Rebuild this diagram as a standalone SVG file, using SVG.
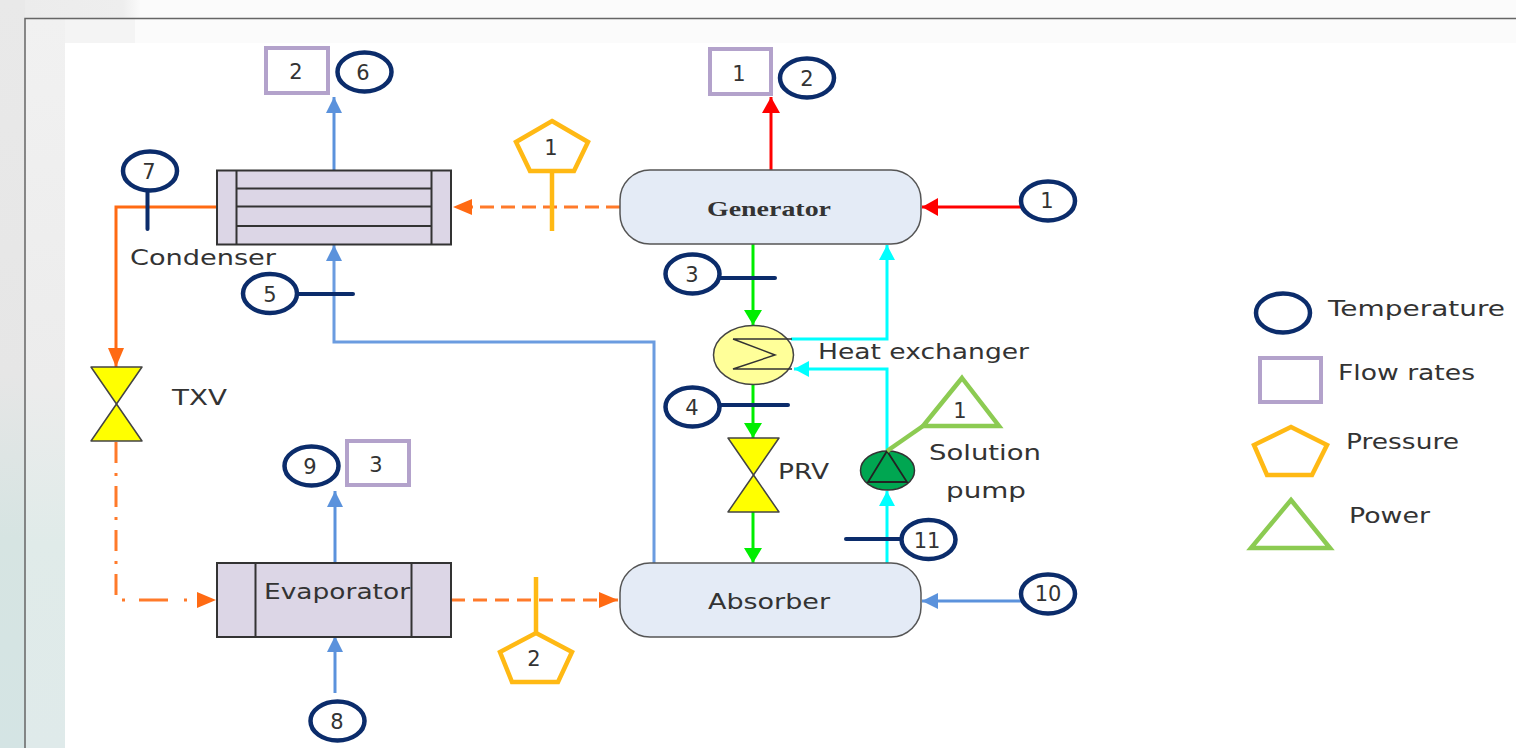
<svg xmlns="http://www.w3.org/2000/svg" width="1516" height="748" viewBox="0 0 1516 748">
<defs>
<linearGradient id="bgL" x1="0" y1="0" x2="0" y2="1"><stop offset="0" stop-color="#e9e9e9"/><stop offset="0.5" stop-color="#e6e6e6"/><stop offset="0.72" stop-color="#d6e4e2"/><stop offset="1" stop-color="#d4e4e4"/></linearGradient>
<linearGradient id="bgI" x1="0" y1="0" x2="0" y2="1"><stop offset="0" stop-color="#f1f1f1"/><stop offset="0.5" stop-color="#ececec"/><stop offset="0.72" stop-color="#e0ebe9"/><stop offset="1" stop-color="#dfeaea"/></linearGradient>
<linearGradient id="bgT" x1="0" y1="0" x2="1" y2="0"><stop offset="0" stop-color="#ececec"/><stop offset="0.85" stop-color="#eeeeee"/><stop offset="1" stop-color="#fafafa"/></linearGradient>
<marker id="aBlue" markerUnits="userSpaceOnUse" markerWidth="18" markerHeight="16" refX="16" refY="8" orient="auto"><path d="M0,0L16,8L0,16Z" fill="#5b92dc"/></marker>
<marker id="aRed" markerUnits="userSpaceOnUse" markerWidth="18" markerHeight="18" refX="16" refY="9" orient="auto"><path d="M0,0L16,9L0,18Z" fill="#ff0000"/></marker>
<marker id="aGreen" markerUnits="userSpaceOnUse" markerWidth="18" markerHeight="20" refX="15" refY="9" orient="auto"><path d="M0,0L15,9L0,18Z" fill="#00ee00"/></marker>
<marker id="aCyan" markerUnits="userSpaceOnUse" markerWidth="18" markerHeight="18" refX="15" refY="8" orient="auto"><path d="M0,0L15,8L0,16Z" fill="#00ffff"/></marker>
<marker id="aOrange" markerUnits="userSpaceOnUse" markerWidth="20" markerHeight="16" refX="19" refY="8" orient="auto"><path d="M0,0L19,8L0,16Z" fill="#ff6a13"/></marker>
</defs>
<style>
text{font-family:"DejaVu Sans","Liberation Sans",sans-serif;fill:#333;text-anchor:start}
.n{font-size:21px;text-anchor:middle}
.l{font-size:20.5px}
.t{fill:#fff;stroke:#0b2c6b;stroke-width:4.5}
.tl{fill:none;stroke:#0b2c6b;stroke-width:4;stroke-linecap:round}
.f{fill:#fff;stroke:#b3a2cb;stroke-width:4}
.p{fill:#fff;stroke:#ffb914;stroke-width:4.5;stroke-linejoin:miter}
.pl{fill:none;stroke:#ffb914;stroke-width:4.5}
.w{fill:#fff;stroke:#8ccb52;stroke-width:4.5}
.eq{fill:#dcd6e6;stroke:#333;stroke-width:2}
.vessel{fill:#e4ebf6;stroke:#555;stroke-width:1.5}
.v{fill:#ffff00;stroke:#444;stroke-width:1.5;stroke-linejoin:round}
.c{fill:none;stroke-width:3}
</style>

<g id="background">
<rect width="1516" height="748" fill="#fbfbfb"/>
<rect x="0" y="0" width="25" height="748" fill="url(#bgL)"/>
<rect x="25" y="0" width="115" height="18" fill="url(#bgT)"/>
<rect x="25" y="18" width="40" height="730" fill="url(#bgI)"/>
<rect x="65" y="18" width="70" height="25" fill="#f4f4f4"/>
<path d="M25,748V18.500H1516" fill="none" stroke="#666" stroke-width="1.500"/>
<rect x="65" y="43" width="1451" height="705" fill="#fff"/>
</g>

<g id="connectors">
<path class="c" d="M334,170V97" stroke="#5b92dc" marker-end="url(#aBlue)"/>
<path class="c" d="M654,563V342H334V245" stroke="#6b9ce0" marker-end="url(#aBlue)"/>
<path class="c" d="M335,563V491" stroke="#5b92dc" marker-end="url(#aBlue)"/>
<path class="c" d="M335,693V636" stroke="#5b92dc" marker-end="url(#aBlue)"/>
<path class="c" d="M1024,601H922" stroke="#5b92dc" marker-end="url(#aBlue)"/>
<path class="c" d="M771,170V97" stroke="#ff0000" marker-end="url(#aRed)"/>
<path class="c" d="M1024,207H922" stroke="#ff0000" marker-end="url(#aRed)"/>
<path class="c" d="M753,244V325" stroke="#00ee00" marker-end="url(#aGreen)"/>
<path class="c" d="M753,384V438" stroke="#00ee00" marker-end="url(#aGreen)"/>
<path class="c" d="M753,512V563" stroke="#00ee00" marker-end="url(#aGreen)"/>
<path class="c" d="M791,339H887V245" stroke="#00ffff" marker-end="url(#aCyan)"/>
<path class="c" d="M887,451V369H794" stroke="#00ffff" marker-end="url(#aCyan)"/>
<path class="c" d="M887,563V491" stroke="#00ffff" marker-end="url(#aCyan)"/>
<path class="c" d="M218,207H116V367" stroke="#ff6a13" marker-end="url(#aOrange)"/>
<path class="c" d="M620,207H453" stroke="#ff7a2a" stroke-dasharray="14 7" marker-end="url(#aOrange)"/>
<path class="c" d="M451,600H618" stroke="#ff7a2a" stroke-dasharray="14 8" marker-end="url(#aOrange)"/>
<path class="c" d="M116,442V595" stroke="#ff7a2a" stroke-dasharray="21 10 3 10"/>
<path class="c" d="M122,600H216" stroke="#ff7a2a" stroke-dasharray="3 14 29 16 3 100" marker-end="url(#aOrange)"/>
</g>

<g id="condenser">
<rect class="eq" x="217" y="170.500" width="234" height="74"/>
<path d="M236.500,170.500V244.500M431.500,170.500V244.500M236.500,188.500H431.500M236.500,206.500H431.500M236.500,226H431.500" stroke="#333" stroke-width="2" fill="none"/>
<text class="l" x="130" y="265" textLength="146" lengthAdjust="spacingAndGlyphs">Condenser</text>
</g>
<g id="generator">
<rect class="vessel" x="620" y="170" width="301" height="74" rx="30"/>
<text x="707" y="216" textLength="124" lengthAdjust="spacingAndGlyphs" style="font-family:'Liberation Serif',serif;font-weight:bold;font-size:21px">Generator</text>
</g>
<g id="absorber">
<rect class="vessel" x="620" y="563" width="301" height="74" rx="30"/>
<text class="l" x="708" y="609" textLength="122" lengthAdjust="spacingAndGlyphs">Absorber</text>
</g>
<g id="evaporator">
<rect class="eq" x="217" y="563" width="234" height="74"/>
<path d="M255.500,563V637M411.500,563V637" stroke="#333" stroke-width="2" fill="none"/>
<text class="l" x="264" y="599" textLength="146" lengthAdjust="spacingAndGlyphs">Evaporator</text>
</g>
<g id="heat-exchanger">
<ellipse cx="753.500" cy="355" rx="40" ry="29.500" fill="#ffff99" stroke="#444" stroke-width="1.500"/>
<path d="M733,339H792M733,339L775,355L733,369H792" fill="none" stroke="#333" stroke-width="1.500"/>
<text class="l" x="818" y="359" textLength="211" lengthAdjust="spacingAndGlyphs">Heat exchanger</text>
</g>
<g id="prv">
<path class="v" d="M728,438H779L753.500,475Z"/>
<path class="v" d="M728,512H779L753.500,475Z"/>
<text class="l" x="778" y="479" textLength="51" lengthAdjust="spacingAndGlyphs">PRV</text>
</g>
<g id="txv">
<path class="v" d="M91,367H142L116.500,404Z"/>
<path class="v" d="M91,441H142L116.500,404Z"/>
<text class="l" x="172" y="405" textLength="55" lengthAdjust="spacingAndGlyphs">TXV</text>
</g>
<g id="solution-pump">
<ellipse cx="887.500" cy="470.500" rx="27" ry="19.500" fill="#00a651" stroke="#333" stroke-width="1.500"/>
<path d="M887,451L868,482H907Z" fill="none" stroke="#222" stroke-width="1.800"/>
<text class="l" x="929" y="460" textLength="112" lengthAdjust="spacingAndGlyphs">Solution</text>
<text class="l" x="946" y="498" textLength="80" lengthAdjust="spacingAndGlyphs">pump</text>
</g>

<g id="temp-1"><ellipse class="t" cx="1048" cy="201" rx="27" ry="19.500"/><text class="n" x="1047" y="208">1</text></g>
<g id="temp-2"><ellipse class="t" cx="807" cy="78" rx="27" ry="19.500"/><text class="n" x="807" y="86">2</text></g>
<g id="temp-3"><path class="tl" d="M720,278H775"/><ellipse class="t" cx="692.500" cy="274" rx="27" ry="19.500"/><text class="n" x="692" y="282">3</text></g>
<g id="temp-4"><path class="tl" d="M720,405H788"/><ellipse class="t" cx="692.500" cy="407" rx="27" ry="19.500"/><text class="n" x="692" y="415">4</text></g>
<g id="temp-5"><path class="tl" d="M298,294H353"/><ellipse class="t" cx="270" cy="293.500" rx="27" ry="19.500"/><text class="n" x="270" y="302">5</text></g>
<g id="temp-6"><ellipse class="t" cx="364.500" cy="72" rx="27" ry="19.500"/><text class="n" x="363" y="80">6</text></g>
<g id="temp-7"><path class="tl" d="M147.500,190V229" stroke-width="5"/><ellipse class="t" cx="150" cy="171" rx="27" ry="19.500"/><text class="n" x="149" y="179">7</text></g>
<g id="temp-8"><ellipse class="t" cx="337.500" cy="721" rx="27" ry="19.500"/><text class="n" x="337" y="729">8</text></g>
<g id="temp-9"><ellipse class="t" cx="311.500" cy="466" rx="27" ry="19.500"/><text class="n" x="310" y="474">9</text></g>
<g id="temp-10"><ellipse class="t" cx="1048" cy="594" rx="27" ry="19.500"/><text class="n" x="1048" y="601">10</text></g>
<g id="temp-11"><path class="tl" d="M846,539H903"/><ellipse class="t" cx="928.500" cy="539.500" rx="27" ry="19.500"/><text class="n" x="927" y="548">11</text></g>

<g id="flow-1"><rect class="f" x="710" y="49" width="61" height="45"/><text class="n" x="739" y="81">1</text></g>
<g id="flow-2"><rect class="f" x="266" y="48" width="62" height="45"/><text class="n" x="296" y="79">2</text></g>
<g id="flow-3"><rect class="f" x="347" y="441" width="62" height="44"/><text class="n" x="376" y="472">3</text></g>

<g id="pressure-1"><path class="pl" d="M552,172V231"/><path class="p" d="M552,121L588,142L574,171H530L516,142Z"/><text class="n" x="551" y="155">1</text></g>
<g id="pressure-2"><path class="pl" d="M536,577V633"/><path class="p" d="M536,633L572,652L558,682H512L500,652Z"/><text class="n" x="534" y="666">2</text></g>
<g id="power-1"><path class="pl" d="M887,451L923,426" style="stroke:#8ccb52"/><path class="w" d="M962,378L999,426H923Z"/><text class="n" x="960" y="418">1</text></g>

<g id="legend">
<ellipse class="t" cx="1283" cy="313" rx="27" ry="19.500"/>
<text class="l" x="1328" y="316" textLength="177" lengthAdjust="spacingAndGlyphs">Temperature</text>
<rect class="f" x="1260" y="358" width="61" height="44"/>
<text class="l" x="1338" y="380" textLength="137" lengthAdjust="spacingAndGlyphs">Flow rates</text>
<path class="p" d="M1291,427L1327,445L1312,475H1267L1254,445Z"/>
<text class="l" x="1346" y="449" textLength="113" lengthAdjust="spacingAndGlyphs">Pressure</text>
<path class="w" d="M1291,500L1330,548H1251Z"/>
<text class="l" x="1349" y="523" textLength="81" lengthAdjust="spacingAndGlyphs">Power</text>
</g>
</svg>
